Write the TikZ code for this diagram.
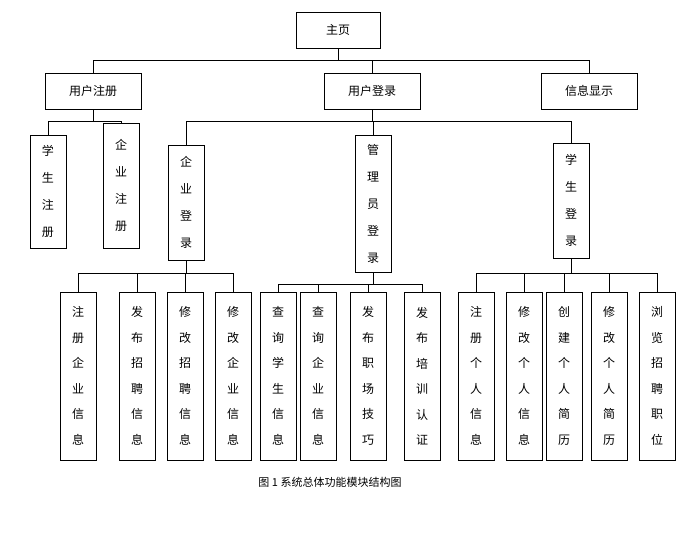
\documentclass[tikz,border=0pt]{standalone}
\usepackage{fontspec}
\setmainfont{Liberation Serif}
\newfontfamily\cjk{Noto Sans CJK SC}
\usetikzlibrary{positioning}
\tikzset{
    hbox/.style={rectangle, draw=black, minimum width=96pt, minimum height=36pt, text centered, font=\cjk\fontsize{12}{14}\selectfont},
    vbox/.style={rectangle, draw=black, minimum width=36pt, text width=13pt, align=center, inner sep=0pt, font=\cjk\fontsize{12}{27}\selectfont},
    leaf/.style={vbox, minimum height=168pt, font=\cjk\fontsize{12}{25.5}\selectfont},
    link/.style={draw=black, line width=0.6pt},
}
\begin{document}
\begin{tikzpicture}[x=1pt, y=-1pt]
    \useasboundingbox (0,0) rectangle (699,539);

    % top level
    \node [hbox, minimum width=84pt] (home) at (338,30) {主页};
    \node [hbox] (reg) at (93,91) {用户注册};
    \node [hbox] (login) at (372,91) {用户登录};
    \node [hbox] (info) at (589,91) {信息显示};

    % second level
    \node [vbox, minimum height=113pt] (sreg) at (48,191.5) {学\\生\\注\\册};
    \node [vbox, minimum height=125pt] (ereg) at (121,185.5) {企\\业\\注\\册};
    \node [vbox, minimum height=115pt] (elog) at (186,202.5) {企\\业\\登\\录};
    \node [vbox, minimum height=137pt] (alog) at (373,203.5) {管\\理\\员\\登\\录};
    \node [vbox, minimum height=115pt] (slog) at (571,200.5) {学\\生\\登\\录};

    % leaves
    \node [leaf] (e1) at (78,376) {注\\册\\企\\业\\信\\息};
    \node [leaf] (e2) at (137,376) {发\\布\\招\\聘\\信\\息};
    \node [leaf] (e3) at (185,376) {修\\改\\招\\聘\\信\\息};
    \node [leaf] (e4) at (233,376) {修\\改\\企\\业\\信\\息};
    \node [leaf] (a1) at (278,376) {查\\询\\学\\生\\信\\息};
    \node [leaf] (a2) at (318,376) {查\\询\\企\\业\\信\\息};
    \node [leaf] (a3) at (368,376) {发\\布\\职\\场\\技\\巧};
    \node [leaf] (a4) at (422,376) {发\\布\\培\\训\\认\\证};
    \node [leaf] (s1) at (476,376) {注\\册\\个\\人\\信\\息};
    \node [leaf] (s2) at (524,376) {修\\改\\个\\人\\信\\息};
    \node [leaf] (s3) at (564,376) {创\\建\\个\\人\\简\\历};
    \node [leaf] (s4) at (609,376) {修\\改\\个\\人\\简\\历};
    \node [leaf] (s5) at (657,376) {浏\\览\\招\\聘\\职\\位};

    % connectors
    \draw [link] (home.south) -- ++(0,12) coordinate (jhome);
    \foreach \c in {reg, login, info} \draw [link] (jhome) -| (\c.north);
    \draw [link] (reg.south) -- ++(0,12) coordinate (jreg);
    \foreach \c in {sreg, ereg} \draw [link] (jreg) -| (\c.north);
    \draw [link] (login.south) -- ++(0,12) coordinate (jlog);
    \foreach \c in {elog, alog, slog} \draw [link] (jlog) -| (\c.north);
    \draw [link] (elog.south) -- ++(0,13) coordinate (jelog);
    \foreach \c in {e1, e2, e3, e4} \draw [link] (jelog) -| (\c.north);
    \draw [link] (alog.south) -- ++(0,12) coordinate (jalog);
    \foreach \c in {a1, a2, a3, a4} \draw [link] (jalog) -| (\c.north);
    \draw [link] (slog.south) -- ++(0,15) coordinate (jslog);
    \foreach \c in {s1, s2, s3, s4, s5} \draw [link] (jslog) -| (\c.north);

    % caption
    \node [font=\cjk\fontsize{11}{13}\selectfont] (cap) at (330,482) {图 1 系统总体功能模块结构图};
\end{tikzpicture}
\end{document}
